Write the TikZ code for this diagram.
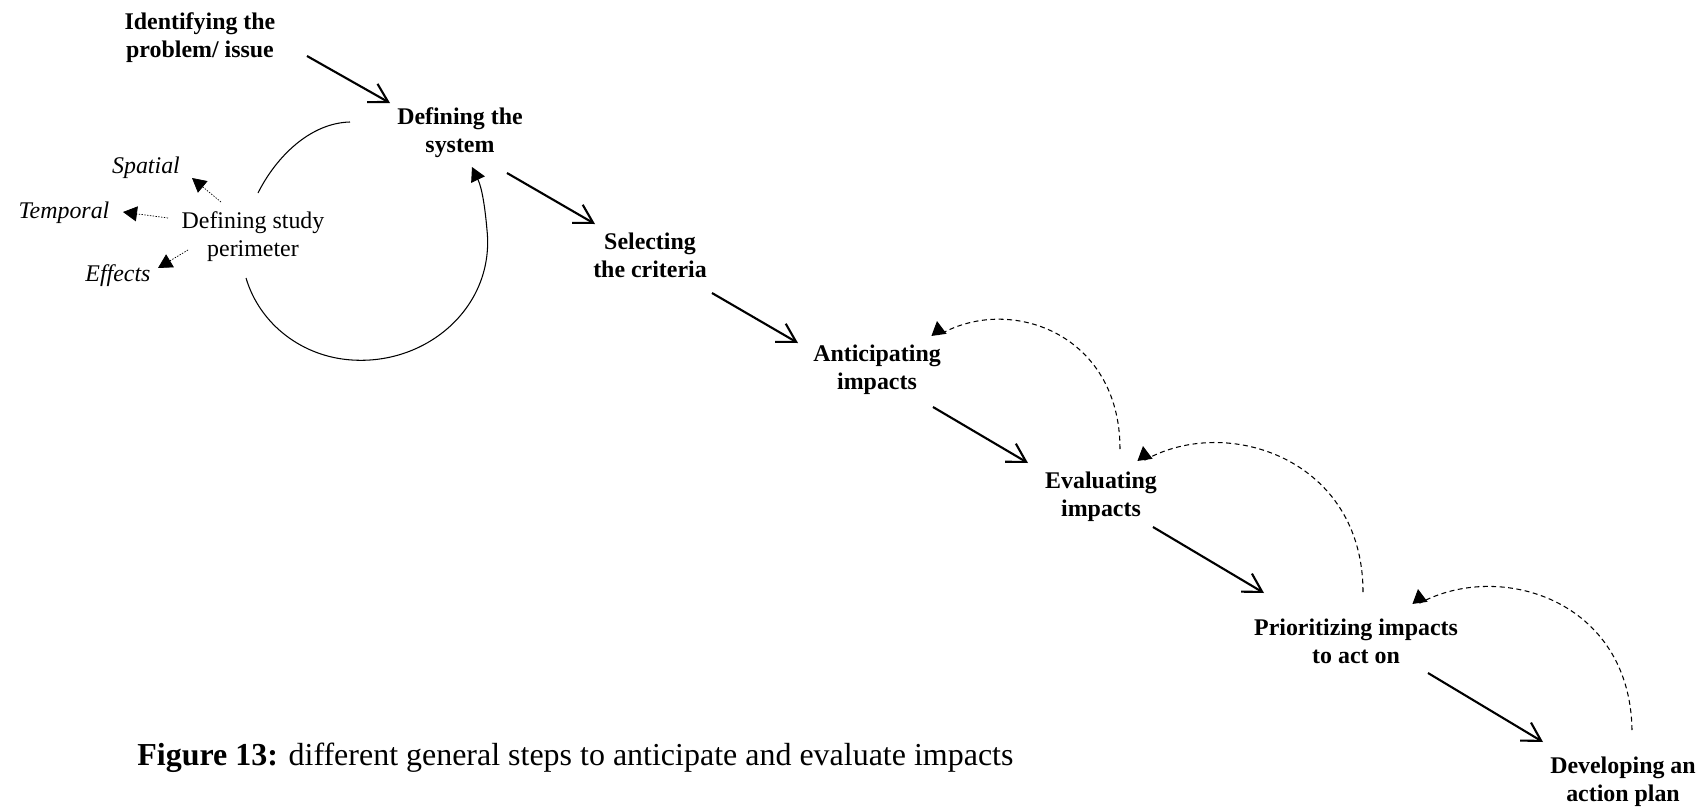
\documentclass[tikz,border=0pt]{standalone}
\usepackage{fontspec}
\setmainfont{Liberation Serif}
\usetikzlibrary{arrows.meta,calc}
\begin{document}
\begin{tikzpicture}[x=0.02cm,y=-0.02cm,
		stepnode/.style={font=\bfseries\fontsize{13.6}{16}\selectfont,align=center,inner sep=0pt},
		perimnode/.style={font=\fontsize{13.6}{16}\selectfont,align=center,inner sep=0pt},
		dimnode/.style={font=\itshape\fontsize{13.6}{16}\selectfont,inner sep=0pt},
		steparrow/.style={line width=1.2pt,-{Straight Barb[angle=60:0.42cm]}},
		loopline/.style={line width=0.6pt},
		looparrow/.style={loopline,-{Triangle[width=0.3cm,length=0.28cm]}},
		backarrow/.style={line width=0.6pt,dash pattern=on 2.8pt off 2pt,-{Triangle[width=0.3cm,length=0.28cm]}},
		dimarrow/.style={line width=0.4pt,dash pattern=on 0.8pt off 0.8pt,-{Triangle[width=0.3cm,length=0.28cm]}}]
	\useasboundingbox (0,0) rectangle (1708,808);
	\node[stepnode] (ident) at (200,38) {Identifying the\\problem/ issue};
	\node[stepnode] (defsys) at (460,133) {Defining the\\system};
	\node[stepnode] (select) at (650,255) {Selecting\\the criteria};
	\node[stepnode] (antic) at (877,370) {Anticipating\\impacts};
	\node[stepnode] (evalu) at (1101,497) {Evaluating\\impacts};
	\node[stepnode] (prior) at (1356,641) {Prioritizing impacts\\to act on};
	\node[stepnode] (devel) at (1623,782) {Developing an\\action plan};
	\node[perimnode] (perim) at (253,237) {Defining study\\perimeter};
	\node[dimnode] (spatial) at (146,168) {Spatial};
	\node[dimnode] (temporal) at (64,213) {Temporal};
	\node[dimnode] (effects) at (118,276) {Effects};
	\draw[steparrow] ($(ident)+(107,18)$)--($(defsys)+(-70,-30)$);
	\draw[steparrow] ($(defsys)+(47,40)$)--($(select)+(-55,-31)$);
	\draw[steparrow] ($(select)+(62,38)$)--($(antic)+(-79,-27)$);
	\draw[steparrow] ($(antic)+(56,37)$)--($(evalu)+(-73,-34)$);
	\draw[steparrow] ($(evalu)+(52,30)$)--($(prior)+(-92,-48)$);
	\draw[steparrow] ($(prior)+(72,32)$)--($(devel)+(-80,-40)$);
	\draw[loopline] ($(defsys)+(-110,-11)$) .. controls +(-40,1) and +(18,-36) .. ($(perim)+(5,-44)$);
	\draw[looparrow] ($(perim)+(-7,41)$) .. controls +(14,47) and +(-49,-3) .. ($(perim)+(99,123)$) .. controls +(76,5) and +(8,76) .. ($(perim)+(234,-7)$) .. controls +(-2,-23) and +(10,21) .. ($(defsys)+(12,34)$);
	\draw[dimarrow] ($(perim)+(-32,-35)$)--($(spatial)+(46,10)$);
	\draw[dimarrow] ($(perim)+(-85,-19)$)--($(temporal)+(59,-1)$);
	\draw[dimarrow] ($(perim)+(-65,13)$)--($(effects)+(40,-8)$);
	\draw[backarrow] ($(devel)+(9,-52)$) .. controls +(-2,-130) and +(80,-43) .. ($(prior)+(64,-38)$)--($(prior)+(62,-52)$);
	\draw[backarrow] ($(prior)+(7,-49)$) .. controls +(0,-133) and +(82,-46) .. ($(evalu)+(44,-37)$)--($(evalu)+(42,-51)$);
	\draw[backarrow] ($(evalu)+(19,-48)$) .. controls +(0,-116) and +(70,-41) .. ($(antic)+(62,-35)$)--($(antic)+(60,-49)$);
	\node[anchor=base west,inner sep=0pt,font=\fontsize{18.2}{21}\selectfont] (caption) at (137,765) {\textbf{Figure 13:} different general steps to anticipate and evaluate impacts};
\end{tikzpicture}
\end{document}
